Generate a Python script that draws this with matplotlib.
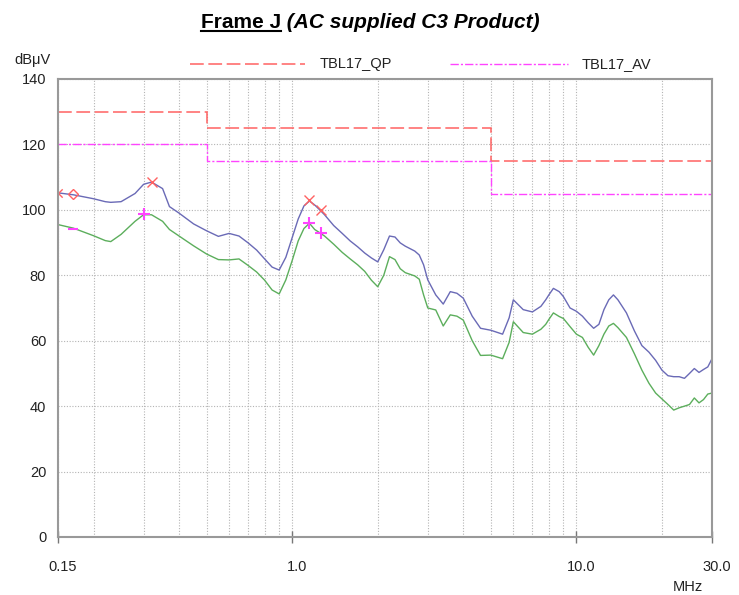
import matplotlib
matplotlib.use("Agg")
import matplotlib.pyplot as plt
import matplotlib.transforms as mtransforms
from matplotlib.lines import Line2D
from matplotlib.ticker import FixedLocator, NullFormatter

# Conducted emission scan, frequencies in MHz, levels in dBuV
freq_mhz = [0.15, 0.17, 0.20, 0.22, 0.23, 0.25, 0.28, 0.30, 0.32, 0.35, 0.37, 0.40, 0.45,
            0.50, 0.55, 0.60, 0.65, 0.70, 0.75, 0.80, 0.85, 0.90, 0.95, 1.00, 1.05,
            1.10, 1.15, 1.20, 1.25, 1.30, 1.40, 1.50, 1.60, 1.70, 1.80, 1.90, 2.00,
            2.10, 2.20, 2.30, 2.40, 2.50, 2.70, 2.80, 2.90, 3.00, 3.20, 3.40, 3.60,
            3.80, 4.00, 4.30, 4.60, 5.00, 5.50, 5.80, 6.00, 6.50, 7.00, 7.50, 7.80,
            8.00, 8.30, 8.70, 9.00, 9.50, 10.0, 10.5, 11.0, 11.5, 12.0, 12.5, 13.0,
            13.5, 14.0, 15.0, 16.0, 17.0, 18.0, 19.0, 20.0, 21.0, 22.0, 23.0, 24.0,
            25.0, 26.0, 27.0, 28.0, 29.0, 30.0]

peak_dbuv = [105.2, 104.6, 103.4, 102.5, 102.3, 102.5, 105.0, 107.8, 108.5, 106.5, 101.0, 99.0, 95.7,
             93.6, 91.9, 92.8, 92.0, 89.9, 87.7, 85.0, 82.5, 81.6, 85.5, 91.5, 97.2,
             101.2, 102.7, 101.5, 100.0, 98.5, 95.2, 92.8, 90.5, 88.7, 86.8, 85.3, 84.1,
             87.8, 92.0, 91.7, 89.9, 88.9, 87.4, 86.2, 83.2, 78.6, 74.0, 71.2, 75.0,
             74.5, 73.0, 67.5, 63.8, 63.2, 62.0, 67.0, 72.5, 69.5, 68.8, 70.5, 72.5,
             74.0, 76.0, 75.0, 73.5, 70.0, 69.0, 67.5, 65.5, 63.8, 65.0, 69.5, 72.5,
             74.0, 72.5, 68.5, 63.0, 58.5, 56.5, 54.0, 51.0, 49.3, 49.0, 49.0, 48.5,
             50.0, 51.5, 50.3, 51.2, 52.0, 54.5]

avg_dbuv = [95.5, 94.4, 92.1, 90.6, 90.3, 92.5, 96.5, 98.5, 98.5, 96.5, 94.0, 92.0, 89.0,
            86.5, 84.8, 84.7, 85.0, 83.0, 81.0, 78.5, 75.5, 74.3, 78.6, 84.5, 90.5,
            94.3, 95.9, 94.0, 93.0, 92.0, 89.5, 87.0, 85.0, 83.2, 81.2, 78.5, 76.5,
            80.0, 85.7, 84.8, 82.0, 80.8, 79.8, 78.8, 74.0, 70.0, 69.4, 64.5, 67.9,
            67.5, 66.3, 60.0, 55.5, 55.6, 54.5, 59.5, 65.8, 62.5, 62.0, 63.5, 65.0,
            66.5, 68.5, 67.4, 66.8, 64.3, 62.0, 61.0, 58.0, 55.6, 58.5, 62.0, 64.5,
            65.3, 64.0, 61.0, 56.0, 51.0, 47.0, 44.0, 42.2, 40.5, 38.8, 39.5, 40.0,
            40.5, 42.5, 41.0, 42.0, 43.7, 44.0]

# Limit lines (TBL17), band edges in MHz
limit_edges = [0.15, 0.5, 5.0, 30.0]
qp_limit = [130, 125, 115]
av_limit = [120, 115, 105]

# Final measurement points
qp_x_freq = [0.32, 1.15, 1.26]
qp_x_level = [108.5, 103.0, 100.0]
qp_d_freq = [0.17]
qp_d_level = [104.9]
qp_edge_freq = [0.15]
qp_edge_level = [105.2]
av_plus_freq = [0.30, 1.15, 1.26]
av_plus_level = [98.7, 96.0, 93.0]
av_dash_freq = [0.17]
av_dash_level = [94.2]
av_edge_freq = [0.15]
av_edge_level = [95.5]

plt.rcParams['font.family'] = ['Liberation Sans', 'DejaVu Sans']

fig = plt.figure(figsize=(7.39, 5.95), dpi=100)
ax = fig.add_axes([58 / 739, 58 / 595, 654 / 739, 458 / 595])

qp_color = '#ff6262'
av_color = '#ff44ff'
peak_color = '#6a6ab6'
avg_color = '#5cae5c'

ax.stairs(qp_limit, limit_edges, baseline=None, color=qp_color, lw=1.1,
          linestyle=(0, (9, 3)))
ax.stairs(av_limit, limit_edges, baseline=None, color=av_color, lw=1.0,
          linestyle=(0, (6, 1.5, 1.5, 1.5)))

ax.plot(freq_mhz, peak_dbuv, color=peak_color, lw=1.0)
ax.plot(freq_mhz, avg_dbuv, color=avg_color, lw=1.0)

ax.plot(qp_x_freq, qp_x_level, 'x', color=qp_color, ms=7, mew=1.0)
ax.plot(qp_d_freq, qp_d_level, 'D', color=qp_color, mfc='none', ms=5, mew=1.0)
ax.plot(qp_edge_freq, qp_edge_level, marker=[(1, 1), (0, 0), (1, -1)],
        color=qp_color, mfc='none', ms=6, mew=1.0, ls='none')
ax.plot(av_plus_freq, av_plus_level, '+', color=av_color, ms=8, mew=1.5)
ax.plot(av_dash_freq, av_dash_level, '_', color=av_color, ms=7, mew=1.5)
ax.plot(av_edge_freq, av_edge_level, '|', color=av_color, ms=7, mew=1.5)

ax.set_xscale('log')
ax.set_xlim(0.15, 30)
ax.set_ylim(0, 140)

major_x = [0.15, 1.0, 10.0, 30.0]
ax.xaxis.set_major_locator(FixedLocator(major_x))
ax.set_xticklabels(['0.15', '1.0', '10.0', '30.0'])
ax.xaxis.set_minor_locator(FixedLocator([0.2, 0.3, 0.4, 0.5, 0.6, 0.7, 0.8, 0.9,
                                         2, 3, 4, 5, 6, 7, 8, 9, 20]))
ax.xaxis.set_minor_formatter(NullFormatter())
ax.set_yticks(range(0, 141, 20))

ax.tick_params(axis='x', which='major', direction='inout', length=9, width=1,
               color='#777777', pad=12, labelsize=10.5, labelcolor='#222222')
ax.tick_params(axis='x', which='minor', length=0)
ax.tick_params(axis='y', length=0, pad=8.5, labelsize=10.5, labelcolor='#222222')

# shift x labels slightly right
offset = mtransforms.ScaledTranslation(5 / 100, 0, fig.dpi_scale_trans)
for lbl in ax.get_xticklabels():
    lbl.set_transform(lbl.get_transform() + offset)

ax.grid(True, which='both', axis='x', color='#b4b4b4', linestyle=(0, (1, 1.5)), lw=0.8)
ax.grid(True, which='major', axis='y', color='#b4b4b4', linestyle=(0, (1, 1.5)), lw=0.8)
ax.set_axisbelow(True)

for side in ['left', 'bottom', 'top', 'right']:
    ax.spines[side].set_color('#999999')
    ax.spines[side].set_linewidth(1.5)

fig.text(14 / 739, 1 - 60 / 595, 'dB\u03bcV', fontsize=10.5, color='#222222',
         va='center', ha='left')
fig.text(703 / 739, 1 - 587 / 595, 'MHz', fontsize=10.5, color='#222222',
         va='center', ha='right')

# legend above the plot
fig.add_artist(Line2D([190 / 739, 305 / 739], [1 - 64 / 595, 1 - 64 / 595],
                      color=qp_color, lw=1.1, linestyle=(0, (9, 3))))
fig.text(320 / 739, 1 - 64 / 595, 'TBL17_QP', fontsize=10.5, color='#222222',
         va='center', ha='left')
fig.add_artist(Line2D([450 / 739, 568 / 739], [1 - 64 / 595, 1 - 64 / 595],
                      color=av_color, lw=1.0, linestyle=(0, (6, 1.5, 1.5, 1.5))))
fig.text(582 / 739, 1 - 64 / 595, 'TBL17_AV', fontsize=10.5, color='#222222',
         va='center', ha='left')

# title: underlined bold part followed by bold italic part, centred as a whole
title_font = ['Liberation Sans Narrow', 'Liberation Sans', 'DejaVu Sans']
base_y = 1 - 28 / 595
t1 = fig.text(0, base_y, 'Frame J', fontsize=15, fontweight='bold',
              family=title_font, va='baseline', ha='left')
t2 = fig.text(0, base_y, ' (AC supplied C3 Product)', fontsize=15, fontweight='bold',
              fontstyle='italic', family=title_font, va='baseline', ha='left')
fig.canvas.draw()
w1 = t1.get_window_extent().width
w2 = t2.get_window_extent().width
fw = fig.bbox.width
x_start = 370 - (w1 + w2) / 2
t1.set_x(x_start / fw)
t2.set_x((x_start + w1) / fw)
fig.add_artist(Line2D([x_start / fw, (x_start + w1) / fw],
                      [1 - 31 / 595, 1 - 31 / 595], color='black', lw=1.5))

fig.savefig('out.png', dpi=100)
